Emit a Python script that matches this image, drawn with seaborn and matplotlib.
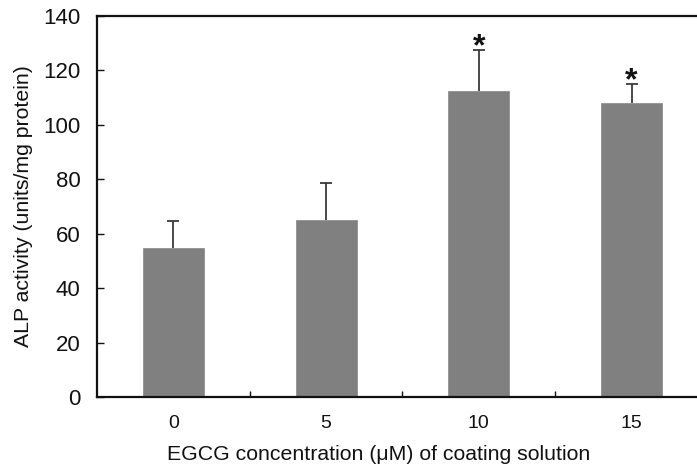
import matplotlib.pyplot as plt
import matplotlib.ticker as mticker
import seaborn as sns
import pandas as pd
import numpy as np

# ── Data ──────────────────────────────────────────────────────────────────────

concentrations = ["0", "5", "10", "15"]
alp_activity = [54.7, 65.1, 112.6, 108.1]
alp_sd = [10.1, 13.5, 15.0, 7.0]
significant = [False, False, True, True]

df = pd.DataFrame({"conc": concentrations, "alp": alp_activity})

# ── Style ─────────────────────────────────────────────────────────────────────

sns.set_theme(style="white")
plt.rcParams["font.family"] = ["Liberation Sans", "DejaVu Sans"]

BAR_COLOR = "#808080"
ERR_COLOR = "#3a3a3a"

fig = plt.figure(figsize=(6.97, 4.66), dpi=100)
ax = fig.add_axes([97 / 697, 1 - 397 / 466, 611 / 697, 381 / 466])

sns.barplot(data=df, x="conc", y="alp", color=BAR_COLOR, saturation=1,
            width=0.4, edgecolor="#909090", linewidth=0.6, ax=ax)

# upper error bars only
xs = np.arange(len(concentrations))
eb = ax.errorbar(xs, alp_activity, yerr=[np.zeros(len(alp_sd)), alp_sd],
                 fmt="none", ecolor=ERR_COLOR, elinewidth=1.3, capsize=4.5,
                 capthick=1.3, zorder=3)
eb[1][0].set_visible(False)

for x, y, e, sig in zip(xs, alp_activity, alp_sd, significant):
    if sig:
        ax.annotate("*", (x, y + e), xytext=(0, -4), textcoords="offset points",
                    ha="center", va="baseline", fontsize=23,
                    fontweight="bold", color="#111111")

# ── Axes ──────────────────────────────────────────────────────────────────────

ax.set_xlim(-0.5, 3.5)
ax.set_ylim(0, 140)
ax.yaxis.set_major_locator(mticker.MultipleLocator(20))
ax.xaxis.set_minor_locator(mticker.FixedLocator([0.5, 1.5, 2.5]))

for side in ["left", "top", "bottom"]:
    ax.spines[side].set_color("#111111")
    ax.spines[side].set_linewidth(1.6)
ax.spines["right"].set_visible(False)

ax.tick_params(axis="y", direction="in", length=5, width=1, color="#111111",
               labelsize=16, pad=12, left=True, labelcolor="#111111")
ax.tick_params(axis="x", which="major", length=0, labelsize=14, pad=13,
               labelcolor="#111111")
ax.tick_params(axis="x", which="minor", direction="in", length=4, width=1,
               color="#111111", bottom=True)

ax.set_xlabel("EGCG concentration (μM) of coating solution", fontsize=15.3,
              color="#111111")
ax.set_ylabel("ALP activity (units/mg protein)", fontsize=15.3, color="#111111")
ax.xaxis.set_label_coords((379 - 97) / 611, -48 / 381)
ax.yaxis.set_label_coords(-64 / 611, 0.5)

fig.savefig("out.png", dpi=100)
